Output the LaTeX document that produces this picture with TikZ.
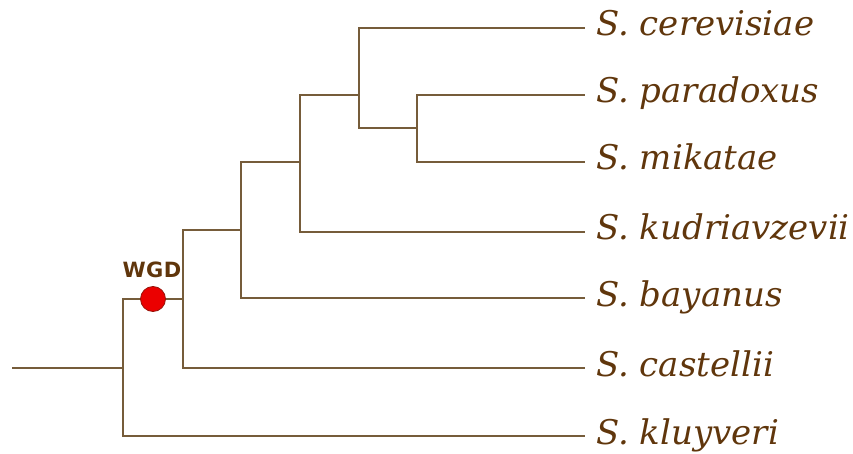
\documentclass[tikz,border=0pt]{standalone}
\usepackage{fontspec}
\newfontfamily\taxonfont{DejaVu Serif}
\newfontfamily\tagfont[LetterSpace=2]{DejaVu Sans}
\definecolor{treeline}{RGB}{118,92,58}
\definecolor{taxontext}{RGB}{96,54,12}
\definecolor{eventred}{RGB}{235,0,0}
\definecolor{eventrim}{RGB}{150,20,10}
\begin{document}
\begin{tikzpicture}[x=1pt,y=-1pt,
  branch/.style={draw=treeline,line width=1.2pt},
  taxon/.style={anchor=west,inner xsep=11pt,inner ysep=0pt,
    text height=20pt,text depth=4pt,text=taxontext,
    font=\taxonfont\itshape\fontsize{34}{40}\selectfont},
  event/.style={circle,fill=eventred,draw=eventrim,line width=0.8pt,
    minimum size=25pt,inner sep=0pt},
  eventlabel/.style={text=taxontext,font=\tagfont\bfseries\fontsize{21}{24}\selectfont}]
\useasboundingbox (0,0) rectangle (853,454);

% leaves
\node[taxon] (cer)  at (585,28)  {S. cerevisiae};
\node[taxon] (par)  at (585,95)  {S. paradoxus};
\node[taxon] (mik)  at (585,162) {S. mikatae};
\node[taxon] (kud)  at (585,232) {S. kudriavzevii};
\node[taxon] (bay)  at (585,298) {S. bayanus};
\node[taxon] (cas)  at (585,368) {S. castellii};
\node[taxon] (klu)  at (585,436) {S. kluyveri};

% internal vertices
\coordinate (root) at (12,368);
\coordinate (a0) at (123,368);
\coordinate (a1) at (183,299);
\coordinate (a2) at (241,230);
\coordinate (a3) at (300,162);
\coordinate (a4) at (359,95);
\coordinate (a5) at (417,128);

% whole genome duplication marker on the branch a0 -> a1
\coordinate (wgdpos) at (153,299);

% branches
\draw[branch] (root) -- (a0);
\draw[branch] (a0) |- (klu.west);
\draw[branch] (a0) |- (wgdpos) -- (a1);
\draw[branch] (a1) |- (cas.west);
\draw[branch] (a1) |- (a2);
\draw[branch] (a2) |- (bay.west);
\draw[branch] (a2) |- (a3);
\draw[branch] (a3) |- (kud.west);
\draw[branch] (a3) |- (a4);
\draw[branch] (a4) |- (cer.west);
\draw[branch] (a4) |- (a5);
\draw[branch] (a5) |- (par.west);
\draw[branch] (a5) |- (mik.west);

\node[event] (wgd) at (wgdpos) {};
\node[eventlabel] (wgdlabel) at (152,270) {WGD};
\end{tikzpicture}
\end{document}
